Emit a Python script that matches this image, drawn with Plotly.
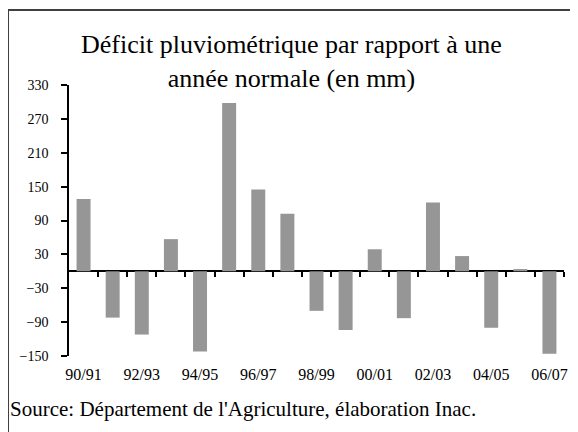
import plotly.graph_objects as go

seasons = ["90/91", "91/92", "92/93", "93/94", "94/95", "95/96", "96/97", "97/98",
           "98/99", "99/00", "00/01", "01/02", "02/03", "03/04", "04/05", "05/06", "06/07"]
deficit = [128, -82, -112, 57, -142, 298, 145, 102, -70, -104, 39, -83, 122, 27, -100, 4, -146]
y_ticks = [-150, -90, -30, 30, 90, 150, 210, 270, 330]
title_lines = ["Déficit pluviométrique par rapport à une", "année normale (en mm)"]
source_text = "Source: Département de l'Agriculture, élaboration Inac."

idx = list(range(len(seasons)))
label_idx = idx[::2]
label_txt = [seasons[i] for i in label_idx]
boundaries = [i + 0.5 for i in idx]

FONT = "Liberation Serif, Times New Roman, serif"

fig = go.Figure()
fig.add_trace(go.Bar(x=idx, y=deficit, marker_color="#969696", width=0.48,
                     marker_line_width=0, hoverinfo="skip"))
fig.add_trace(go.Scatter(x=[idx[0]], y=[0], xaxis="x2", mode="markers",
                         marker=dict(opacity=0), hoverinfo="skip", showlegend=False))

ymin, ymax = y_ticks[0], y_ticks[-1]
fig.update_layout(
    template="none",
    width=570, height=424,
    margin=dict(l=61, r=14, t=77, b=76, autoexpand=False),
    paper_bgcolor="white", plot_bgcolor="white",
    showlegend=False,
    font=dict(family=FONT, color="black"),
    xaxis=dict(range=[-0.5, len(seasons) - 0.5], tickmode="array",
               tickvals=label_idx, ticktext=label_txt, showline=False,
               showgrid=False, zeroline=False, ticks="", automargin=False,
               tickfont=dict(size=16, family=FONT), ticklabelstandoff=7),
    xaxis2=dict(range=[-0.5, len(seasons) - 0.5], overlaying="x", anchor="free",
                position=(0 - ymin) / (ymax - ymin), side="bottom",
                tickmode="array", tickvals=boundaries, ticks="outside",
                ticklen=5, tickwidth=1.5, tickcolor="black", automargin=False,
                showticklabels=False, showline=False, showgrid=False, zeroline=False),
    yaxis=dict(range=[ymin, ymax], tickmode="array", tickvals=y_ticks,
               showgrid=False, showline=True, linecolor="black", linewidth=1.5,
               ticks="outside", ticklen=6, tickwidth=1.5, tickcolor="black",
               zeroline=True, zerolinecolor="black", zerolinewidth=1.5,
               automargin=False,
               tickfont=dict(size=14, family=FONT), ticklabelstandoff=10),
)

fig.add_annotation(text="<br>".join(title_lines), xref="paper", yref="paper",
                   x=0.4505, y=1.0867, xanchor="center", yanchor="middle",
                   showarrow=False, font=dict(size=26, family=FONT))
fig.add_annotation(text=source_text, xref="paper", yref="paper",
                   x=-0.1232, y=-0.196, xanchor="left", yanchor="middle",
                   showarrow=False, font=dict(size=21, family=FONT))

# outer frame (top and left edges visible in the crop)
fig.add_shape(type="line", xref="paper", yref="paper", x0=-0.1232, x1=1.1,
              y0=1.2768, y1=1.2768, line=dict(color="#404040", width=2))
fig.add_shape(type="line", xref="paper", yref="paper", x0=-0.1232, x1=-0.1232,
              y0=1.2768, y1=-0.3, line=dict(color="#404040", width=2))

fig.write_html("out.html")
